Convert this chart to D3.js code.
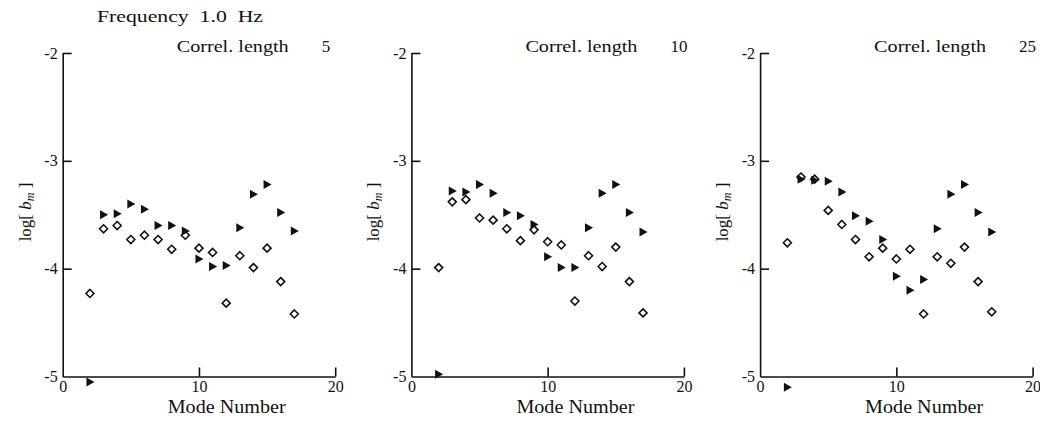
<!DOCTYPE html>
<html lang="en">
<head>
<meta charset="utf-8" />
<title>log bm vs mode number</title>
<script src="https://d3js.org/d3.v7.min.js"></script>
<style>
  body { margin: 0; background: #fff; }
  text { font-family: "Liberation Serif", "DejaVu Serif", serif; fill: #111; }
  .axis path, .axis line { stroke: #111; stroke-width: 1.6px; }
  .axis text { font-size: 16px; font-family: "Liberation Serif", serif; }
</style>
</head>
<body>
<div id="chart"></div>
<script>
var width = 1040, height = 421;

var modes = [2, 3, 4, 5, 6, 7, 8, 9, 10, 11, 12, 13, 14, 15, 16, 17];
var correlLengths = [5, 10, 25];

// open diamonds, one array per panel
var diamonds5  = [-4.23, -3.63, -3.60, -3.73, -3.69, -3.73, -3.82, -3.69, -3.81, -3.85, -4.32, -3.88, -3.99, -3.81, -4.12, -4.42];
var diamonds10 = [-3.99, -3.38, -3.36, -3.53, -3.55, -3.63, -3.74, -3.64, -3.75, -3.78, -4.30, -3.88, -3.98, -3.80, -4.12, -4.41];
var diamonds25 = [-3.76, -3.15, -3.17, -3.46, -3.59, -3.73, -3.89, -3.81, -3.91, -3.82, -4.42, -3.89, -3.95, -3.80, -4.12, -4.40];

// filled right-pointing triangles
var triangles5  = [-5.05, -3.50, -3.49, -3.40, -3.45, -3.60, -3.60, -3.65, -3.91, -3.98, -3.97, -3.62, -3.31, -3.22, -3.48, -3.65];
var triangles10 = [-4.98, -3.28, -3.29, -3.22, -3.30, -3.48, -3.51, -3.59, -3.89, -3.99, -3.99, -3.62, -3.30, -3.22, -3.48, -3.66];
var triangles25 = [-5.10, -3.17, -3.18, -3.19, -3.29, -3.51, -3.56, -3.73, -4.07, -4.20, -4.10, -3.63, -3.31, -3.22, -3.48, -3.66];

var xTicks = [0, 10, 20];
var yTicks = [-5, -4, -3, -2];

var panels = [
  { cl: correlLengths[0], dia: diamonds5,  tri: triangles5 },
  { cl: correlLengths[1], dia: diamonds10, tri: triangles10 },
  { cl: correlLengths[2], dia: diamonds25, tri: triangles25 }
];

var svg = d3.select("#chart").append("svg")
  .attr("width", width)
  .attr("height", height);

var left0 = 62.7, step = 348.7, plotW = 272.5;
var plotTop = 53, plotBottom = 376.5;

var x = d3.scaleLinear().domain([0, 20]).range([0, plotW]);
var y = d3.scaleLinear().domain([-5, -2]).range([plotBottom, plotTop]);

svg.append("text")
  .attr("x", 97).attr("y", 22)
  .style("font-size", "17px")
  .style("white-space", "pre")
  .attr("textLength", 166).attr("lengthAdjust", "spacingAndGlyphs")
  .text("Frequency  1.0  Hz");

var triPath = "M-3.5,-4.5L4.5,0L-3.5,4.5Z";
var diaPath = "M0,-4L4,0L0,4L-4,0Z";

panels.forEach(function (p, i) {
  var g = svg.append("g").attr("transform", "translate(" + (left0 + i * step) + ",0)");

  g.append("g").attr("class", "axis")
    .attr("transform", "translate(0," + plotBottom + ")")
    .call(d3.axisBottom(x).tickValues(xTicks).tickSizeInner(-9).tickSizeOuter(0).tickPadding(4))
    .call(function (a) { a.selectAll(".tick").filter(function (d) { return d === 0; }).select("line").remove(); });

  g.append("g").attr("class", "axis")
    .call(d3.axisLeft(y).tickValues(yTicks).tickSizeInner(-9).tickSizeOuter(0).tickPadding(5)
      .tickFormat(function (d) { return d3.format("d")(d).replace("−", "-"); }))
    .call(function (a) { a.selectAll(".tick").filter(function (d) { return d === -5; }).select("line").remove(); });

  g.append("text")
    .attr("x", 114).attr("y", 52)
    .style("font-size", "17px")
    .attr("textLength", 112).attr("lengthAdjust", "spacingAndGlyphs")
    .text("Correl. length");
  g.append("text")
    .attr("x", 259).attr("y", 52)
    .style("font-size", "17px")
    .text(p.cl);

  g.append("text")
    .attr("x", 164).attr("y", 413)
    .attr("text-anchor", "middle")
    .style("font-size", "18px")
    .attr("textLength", 118).attr("lengthAdjust", "spacingAndGlyphs")
    .text("Mode Number");

  var yl = g.append("text")
    .attr("transform", "translate(-32,212) rotate(-90)")
    .attr("text-anchor", "middle")
    .style("font-size", "17px");
  yl.append("tspan").text("log[ ");
  yl.append("tspan").style("font-style", "italic").text("b");
  yl.append("tspan").style("font-style", "italic").style("font-size", "12px").attr("dy", 3).text("m");
  yl.append("tspan").attr("dy", -3).text(" ]");

  g.selectAll(".dia").data(modes.map(function (m, k) { return [m, p.dia[k]]; }))
    .enter().append("path")
    .attr("class", "dia")
    .attr("d", diaPath)
    .attr("transform", function (d) { return "translate(" + x(d[0]) + "," + y(d[1]) + ")"; })
    .attr("fill", "#fff")
    .attr("stroke", "#111")
    .attr("stroke-width", 1.6);

  g.selectAll(".tri").data(modes.map(function (m, k) { return [m, p.tri[k]]; }))
    .enter().append("path")
    .attr("class", "tri")
    .attr("d", triPath)
    .attr("transform", function (d) { return "translate(" + x(d[0]) + "," + y(d[1]) + ")"; })
    .attr("fill", "#111");
});
</script>
</body>
</html>
